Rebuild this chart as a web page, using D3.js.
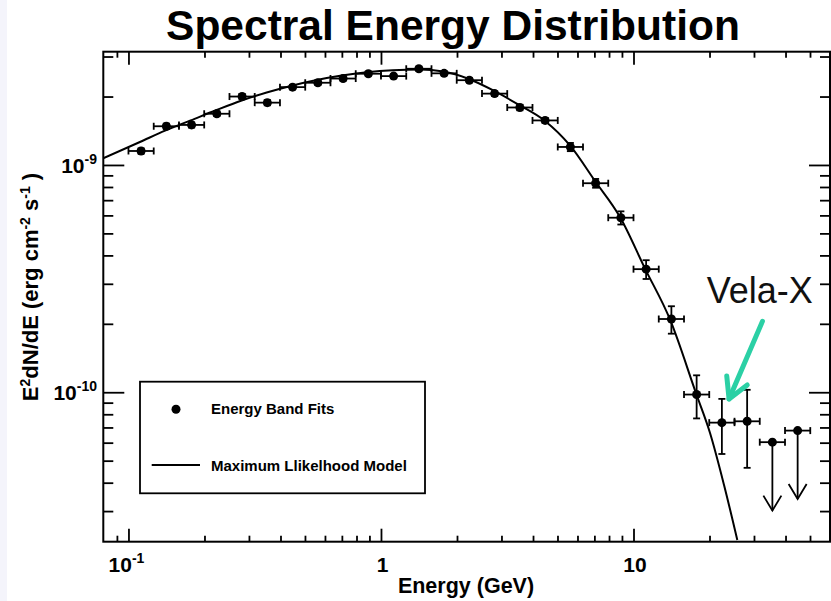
<!DOCTYPE html>
<html>
<head>
<meta charset="utf-8">
<script src="https://cdn.jsdelivr.net/npm/d3@7"></script>
<style>
  html, body { margin: 0; padding: 0; background: #fff; }
  svg { display: block; font-family: "Liberation Sans", Arial, Helvetica, sans-serif; }
</style>
</head>
<body>
<svg id="chart" width="831" height="601"></svg>
<script>
// Energy band edges (GeV), ten bands per decade
const binEdges = [0.1, 0.1259, 0.1585, 0.1995, 0.2512, 0.3162, 0.3981, 0.5012, 0.631, 0.7943,
  1, 1.259, 1.585, 1.995, 2.512, 3.162, 3.981, 5.012, 6.31, 7.943,
  10, 12.59, 15.85, 19.95, 25.12, 31.62, 39.81, 50.12];

// E^2 dN/dE of each energy band fit (erg cm^-2 s^-1)
const bandFlux = [1.152e-9, 1.48e-9, 1.50e-9, 1.68e-9, 2.00e-9, 1.88e-9, 2.20e-9, 2.30e-9, 2.40e-9,
  2.52e-9, 2.46e-9, 2.65e-9, 2.53e-9, 2.36e-9, 2.06e-9, 1.79e-9, 1.57e-9, 1.20e-9,
  8.31e-10, 5.86e-10, 3.48e-10, 2.10e-10, 9.77e-11, 7.35e-11, 7.45e-11, 6.03e-11, 6.78e-11];

// symmetric 1-sigma errors on the band fits
const bandFluxErr = [0.03e-9, 0.04e-9, 0.04e-9, 0.04e-9, 0.05e-9, 0.05e-9, 0.05e-9, 0.05e-9, 0.05e-9,
  0.05e-9, 0.05e-9, 0.05e-9, 0.05e-9, 0.05e-9, 0.05e-9, 0.05e-9, 0.04e-9, 0.05e-9,
  0.37e-10, 0.39e-10, 0.33e-10, 0.29e-10, 0.21e-10, 0.20e-10, 0.28e-10, 0, 0];

// bands reported as upper limits
const isUpperLimit = [false, false, false, false, false, false, false, false, false,
  false, false, false, false, false, false, false, false, false,
  false, false, false, false, false, false, false, true, true];

// maximum likelihood model, sampled along the curve
const modelEnergy = [0.0794, 0.1110, 0.1404, 0.1763, 0.2221, 0.2807, 0.3526, 0.4430, 0.5564, 0.6990,
  0.8777, 1.1125, 1.4270, 1.7651, 2.2170, 2.7852, 3.5206, 4.4351, 5.6040, 7.0402,
  8.8427, 11.107, 13.950, 17.684, 20.094, 22.828, 25.767];
const modelFlux = [1.070e-9, 1.262e-9, 1.419e-9, 1.570e-9, 1.741e-9, 1.922e-9, 2.084e-9, 2.233e-9, 2.366e-9, 2.476e-9,
  2.560e-9, 2.613e-9, 2.631e-9, 2.576e-9, 2.395e-9, 2.127e-9, 1.837e-9, 1.570e-9, 1.219e-9, 8.50e-10,
  5.90e-10, 3.50e-10, 2.09e-10, 9.90e-11, 6.62e-11, 3.91e-11, 2.24e-11];

// axis labelling
const xMajorTicks = [0.1, 1, 10];
const xTickLabels = [["10", "-1"], ["1", ""], ["10", ""]];
const yMajorTicks = [1e-10, 1e-9];
const yTickLabels = [["10", "-10"], ["10", "-9"]];

const titleText = "Spectral Energy Distribution";
const xTitle = "Energy (GeV)";
const legendLabels = ["Energy Band Fits", "Maximum Llikelhood Model"];
const calloutText = "Vela-X";
// callout arrow: label anchor, arrow tail, arrow tip (GeV, erg cm^-2 s^-1)
const calloutLabel = [19.5, 2.47e-10];
const calloutTail = [32.4, 2.05e-10];
const calloutTip = [23.9, 9.34e-11];

const upperLimitDrop = 0.5;   // arrow of an upper limit runs down to half the limit

const W = 831, H = 601;
const plot = { left: 103.3, right: 830, top: 51.7, bottom: 541.7 };
const ink = "#000";
const calloutColor = "#2bd0a5";

const svg = d3.select("#chart");
svg.append("rect").attr("width", W).attr("height", H).attr("fill", "#fff");
svg.append("rect").attr("x", 0).attr("y", 0).attr("width", 7).attr("height", H).attr("fill", "#f4f4fb");

const x = d3.scaleLog().domain([0.0795, 60]).range([plot.left, plot.right]);
const y = d3.scaleLog().domain([2.2e-11, 3.15e-9]).range([plot.bottom, plot.top]);

const isDecade = v => Math.abs(Math.log10(v) - Math.round(Math.log10(v))) < 1e-6;
const inside = (s, v) => { const p = s(v); const r = s.range(); return p > Math.min(...r) + 1 && p < Math.max(...r) - 1; };
const xMinor = x.ticks().filter(v => !isDecade(v) && inside(x, v));
const yMinor = y.ticks().filter(v => !isDecade(v) && inside(y, v));

// title
svg.append("text")
  .attr("x", 453).attr("y", 40)
  .attr("text-anchor", "middle")
  .attr("font-size", 42.5).attr("font-weight", "bold")
  .attr("fill", ink)
  .text(titleText);

// inward ticks on all four sides
function drawAxis(axisFn, scale, values, size, transform) {
  const g = svg.append("g")
    .attr("transform", transform)
    .call(axisFn(scale).tickValues(values).tickSize(-size).tickFormat(""));
  g.select(".domain").remove();
  g.selectAll(".tick line").attr("stroke", ink).attr("stroke-width", 1.8);
}
drawAxis(d3.axisBottom, x, xMajorTicks, 13, `translate(0,${plot.bottom})`);
drawAxis(d3.axisBottom, x, xMinor, 6, `translate(0,${plot.bottom})`);
drawAxis(d3.axisTop, x, xMajorTicks, 13, `translate(0,${plot.top})`);
drawAxis(d3.axisTop, x, xMinor, 6, `translate(0,${plot.top})`);
drawAxis(d3.axisLeft, y, yMajorTicks, 21, `translate(${plot.left},0)`);
drawAxis(d3.axisLeft, y, yMinor, 10, `translate(${plot.left},0)`);
drawAxis(d3.axisRight, y, yMajorTicks, 21, `translate(${plot.right},0)`);
drawAxis(d3.axisRight, y, yMinor, 10, `translate(${plot.right},0)`);

// frame
svg.append("rect")
  .attr("x", plot.left).attr("y", plot.top)
  .attr("width", plot.right - plot.left).attr("height", plot.bottom - plot.top)
  .attr("fill", "none").attr("stroke", ink).attr("stroke-width", 2);

// tick labels with superscript exponents
function powerLabel(sel, base, exp) {
  sel.append("tspan").text(base);
  if (exp) sel.append("tspan").attr("dy", -9).attr("font-size", 14).text(exp);
}
xMajorTicks.forEach((v, i) => {
  const t = svg.append("text")
    .attr("x", x(v) + (xTickLabels[i][1] ? -2 : 1.5)).attr("y", 572)
    .attr("text-anchor", "middle")
    .attr("font-size", 21).attr("font-weight", "bold").attr("fill", ink);
  powerLabel(t, xTickLabels[i][0], xTickLabels[i][1]);
});
yMajorTicks.forEach((v, i) => {
  const t = svg.append("text")
    .attr("x", 97).attr("y", y(v) + 8)
    .attr("text-anchor", "end")
    .attr("font-size", 21).attr("font-weight", "bold").attr("fill", ink);
  powerLabel(t, yTickLabels[i][0], yTickLabels[i][1]);
});

// axis titles
svg.append("text")
  .attr("x", 466).attr("y", 593)
  .attr("text-anchor", "middle")
  .attr("font-size", 21.5).attr("font-weight", "bold").attr("fill", ink)
  .text(xTitle);

const yt = svg.append("text")
  .attr("transform", "translate(38,287) rotate(-90)")
  .attr("text-anchor", "middle")
  .attr("font-size", 22).attr("font-weight", "bold").attr("fill", ink);
[["E", 0], ["2", -8], ["dN/dE (erg cm", 8], ["-2", -8], [" s", 8], ["-1", -8], [" )", 8]].forEach(([s, dy], i) => {
  const sp = yt.append("tspan").text(s);
  if (i) sp.attr("dy", dy);
  if (dy < 0) sp.attr("font-size", 14);
});

// clip region for the model curve
svg.append("defs").append("clipPath").attr("id", "plotClip")
  .append("rect")
  .attr("x", plot.left).attr("y", plot.top)
  .attr("width", plot.right - plot.left).attr("height", plot.bottom - plot.top);

const model = modelEnergy.map((e, i) => [e, modelFlux[i]]);
svg.append("path")
  .datum(model)
  .attr("clip-path", "url(#plotClip)")
  .attr("fill", "none").attr("stroke", ink).attr("stroke-width", 2)
  .attr("d", d3.line().x(d => x(d[0])).y(d => y(d[1])).curve(d3.curveMonotoneX));

// energy band fits
const bands = bandFlux.map((f, i) => ({
  lo: binEdges[i], hi: binEdges[i + 1], e: Math.sqrt(binEdges[i] * binEdges[i + 1]),
  f, err: bandFluxErr[i], ul: isUpperLimit[i]
}));
const capHalf = 3.5;
const gb = svg.append("g").attr("stroke", ink).attr("stroke-width", 1.8).attr("fill", "none");
bands.forEach(b => {
  const cx = x(b.e), cy = y(b.f);
  // horizontal band extent with end caps
  gb.append("line").attr("x1", x(b.lo)).attr("x2", x(b.hi)).attr("y1", cy).attr("y2", cy);
  gb.append("line").attr("x1", x(b.lo)).attr("x2", x(b.lo)).attr("y1", cy - capHalf).attr("y2", cy + capHalf);
  gb.append("line").attr("x1", x(b.hi)).attr("x2", x(b.hi)).attr("y1", cy - capHalf).attr("y2", cy + capHalf);
  if (b.ul) {
    const tip = y(b.f * upperLimitDrop);
    gb.append("line").attr("x1", cx).attr("x2", cx).attr("y1", cy).attr("y2", tip);
    gb.append("polyline").attr("points", `${cx - 9},${tip - 15} ${cx},${tip} ${cx + 9},${tip - 15}`);
  } else {
    const yHi = y(b.f + b.err), yLo = y(b.f - b.err);
    gb.append("line").attr("x1", cx).attr("x2", cx).attr("y1", yHi).attr("y2", yLo);
    gb.append("line").attr("x1", cx - capHalf).attr("x2", cx + capHalf).attr("y1", yHi).attr("y2", yHi);
    gb.append("line").attr("x1", cx - capHalf).attr("x2", cx + capHalf).attr("y1", yLo).attr("y2", yLo);
  }
});
svg.append("g").selectAll("circle").data(bands).join("circle")
  .attr("cx", d => x(d.e)).attr("cy", d => y(d.f)).attr("r", 4.5).attr("fill", ink);

// legend
const lg = svg.append("g");
lg.append("rect").attr("x", 140).attr("y", 381.7).attr("width", 285).attr("height", 111.6)
  .attr("fill", "#fff").attr("stroke", ink).attr("stroke-width", 1.8);
lg.append("circle").attr("cx", 176).attr("cy", 409.3).attr("r", 4.5).attr("fill", ink);
lg.append("line").attr("x1", 151.7).attr("x2", 200).attr("y1", 465).attr("y2", 465)
  .attr("stroke", ink).attr("stroke-width", 2);
lg.selectAll("text").data(legendLabels).join("text")
  .attr("x", 211).attr("y", (d, i) => i ? 470.7 : 413.5)
  .attr("font-size", 15).attr("font-weight", "bold").attr("fill", ink)
  .text(d => d);

// Vela-X callout
svg.append("text")
  .attr("x", x(calloutLabel[0])).attr("y", y(calloutLabel[1]))
  .attr("font-size", 36).attr("fill", "#111")
  .text(calloutText);
const tx = x(calloutTip[0]), ty = y(calloutTip[1]);
const sx = x(calloutTail[0]), sy = y(calloutTail[1]);
const ang = Math.atan2(sy - ty, sx - tx);
const armLen = 23, armSpread = 29 * Math.PI / 180;
const arms = [ang - armSpread, ang + armSpread].map(a => [tx + armLen * Math.cos(a), ty + armLen * Math.sin(a)]);
const ca = svg.append("g").attr("stroke", calloutColor).attr("stroke-width", 5)
  .attr("fill", "none").attr("stroke-linecap", "round").attr("stroke-linejoin", "round");
ca.append("line").attr("x1", sx).attr("y1", sy).attr("x2", tx).attr("y2", ty);
ca.append("polyline").attr("points", `${arms[0][0]},${arms[0][1]} ${tx},${ty} ${arms[1][0]},${arms[1][1]}`);
</script>
</body>
</html>
